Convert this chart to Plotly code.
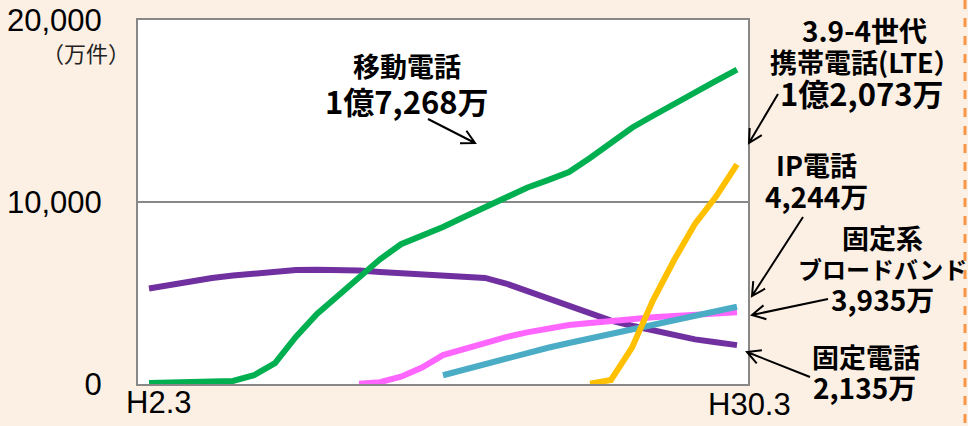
import math
import plotly.graph_objects as go

# Heisei years (end of March), H2.3 ... H30.3
years = [2, 3, 4, 5, 6, 7, 8, 9, 10, 11, 12, 13, 14, 15, 16, 17, 18, 19, 20,
         21, 22, 23, 24, 25, 26, 27, 28, 29, 30]

mobile = [50, 70, 100, 130, 170, 480, 1150, 2600, 3850, 4850, 5900, 6850, 7680, 8150,
          8630, 9180, 9730, 10250, 10780, 11200, 11650, 12420, 13270, 14080, 14740,
          15400, 16030, 16650, 17268]
fixed_phone = [5250, 5450, 5650, 5820, 5960, 6080, 6180, 6265, 6280, 6270, 6230, 6160,
               6100, 6040, 5980, 5930, 5830, 5520, 5100, 4700, 4280, 3850, 3480, 3200,
               2930, 2700, 2450, 2290, 2135]
broadband = [None] * 10 + [20, 100, 400, 900, 1590, 1940, 2280, 2575, 2835, 3050, 3240,
                           3355, 3470, 3585, 3670, 3730, 3800, 3870, 3935]
ip_phone = [None] * 14 + [480, 790, 1100, 1420, 1730, 1990, 2250, 2510, 2770, 3030,
                          3280, 3520, 3760, 4000, 4244]
lte = [None] * 21 + [20, 220, 2000, 4600, 6800, 8800, 10300, 12073]

y_ticks = [0, 10000, 20000]
y_ticktext = ['0', '10,000', '20,000']
x_ticktext = ['H2.3', 'H30.3']

series = [
    (fixed_phone, '#7030A0'),
    (mobile, '#00B050'),
    (broadband, '#FF66FF'),
    (ip_phone, '#4BACC6'),
    (lte, '#FFC000'),
]

BG = '#FCEFE4'
W, H = 968, 426
L, R, T, B = 138, 748, 20, 384


def px(x, y):
    # pixel position -> paper coords
    return (x - L) / (R - L), (B - y) / (B - T)


fig = go.Figure()
for vals, col in series:
    fig.add_trace(go.Scatter(x=years, y=vals, mode='lines', line=dict(color=col, width=6),
                             connectgaps=False, showlegend=False, hoverinfo='skip'))

fig.update_layout(
    width=W, height=H, autosize=False,
    margin=dict(l=L, r=W - R, t=T, b=H - B),
    paper_bgcolor=BG, plot_bgcolor='white',
    font=dict(family='Liberation Sans, Arial, sans-serif', color='black'),
)
fig.update_xaxes(range=[2 - 11 / 21, 30 + 11 / 21], showticklabels=False, showgrid=False,
                 zeroline=False, showline=True, linecolor='#888888', linewidth=2, mirror=True,
                 ticks='', automargin=False)
fig.update_yaxes(range=[0, 20000], tickvals=y_ticks, ticktext=y_ticktext,
                 tickfont=dict(size=31, family='Liberation Sans, Arial, sans-serif'),
                 showgrid=True, gridcolor='#888888', gridwidth=2, zeroline=False,
                 showline=True, linecolor='#888888', linewidth=2, mirror=True, ticks='',
                 ticklabelstandoff=28, automargin=False)

# x tick labels (first and last only)
fig.add_annotation(x=years[0], y=0, xref='x', yref='paper', text=x_ticktext[0],
                   showarrow=False, xshift=9, yshift=-18, xanchor='center', yanchor='middle',
                   font=dict(size=31, family='Liberation Sans, Arial, sans-serif'))
fig.add_annotation(x=years[-1], y=0, xref='x', yref='paper', text=x_ticktext[1],
                   showarrow=False, xshift=12, yshift=-20, xanchor='center', yanchor='middle',
                   font=dict(size=31, family='Liberation Sans, Arial, sans-serif'))

# unit label
ux, uy = px(86, 52)
fig.add_annotation(x=ux, y=uy, xref='paper', yref='paper', text='（万件）', showarrow=False,
                   xanchor='center', yanchor='middle',
                   font=dict(size=22, family='Noto Sans CJK JP', color='#222222'))

# callout labels: text, center x, center y, size
labels = [
    ('移動電話', 407, 65, 27),
    ('1億7,268万', 407, 100, 31),
    ('3.9-4世代', 864, 30, 28),
    ('携帯電話(LTE）', 865, 61, 27),
    ('1億2,073万', 862, 93, 31),
    ('IP電話', 816, 164, 27),
    ('4,244万', 816, 196, 28),
    ('固定系', 882, 237, 27),
    ('ブロードバンド', 882, 268, 24),
    ('3,935万', 882, 299, 28),
    ('固定電話', 866, 356, 27),
    ('2,135万', 864, 387, 28),
]
for txt, cx, cy, sz in labels:
    ax_, ay_ = px(cx, cy)
    fig.add_annotation(x=ax_, y=ay_, xref='paper', yref='paper', text='<b>' + txt + '</b>',
                       showarrow=False, xanchor='center', yanchor='middle',
                       font=dict(size=sz, family='Noto Sans CJK JP', color='black'))

# arrows: start -> tip, in pixels
arrows = [
    ((428, 119), (475, 143)),
    ((778, 94), (749, 143)),
    ((803, 217), (752, 296)),
    ((828, 299), (752, 315)),
    ((810, 377), (747, 352)),
]


def arrow_path(s, t, head=15, ang=28):
    dx, dy = t[0] - s[0], t[1] - s[1]
    n = math.hypot(dx, dy)
    ux_, uy_ = dx / n, dy / n
    pts = []
    for sgn in (1, -1):
        a = math.radians(ang) * sgn
        rx = ux_ * math.cos(a) - uy_ * math.sin(a)
        ry = ux_ * math.sin(a) + uy_ * math.cos(a)
        pts.append((t[0] - head * rx, t[1] - head * ry))
    p = lambda q: '%.5f,%.5f' % px(*q)
    return 'M%s L%s M%s L%s L%s' % (p(s), p(t), p(pts[0]), p(t), p(pts[1]))


for s, t in arrows:
    fig.add_shape(type='path', path=arrow_path(s, t), xref='paper', yref='paper',
                  line=dict(color='black', width=2))

# dashed orange frame on the right
x0, y0 = px(965, 0)
_, y1 = px(965, H)
fig.add_shape(type='line', x0=x0, x1=x0, y0=y0, y1=y1, xref='paper', yref='paper',
              line=dict(color='#F79646', width=3, dash='dash'))

# drop the default body margin so the figure sits at the window's corner
fig.write_html('out.html', config={'displayModeBar': False},
               post_script="document.body.style.margin='0';")
